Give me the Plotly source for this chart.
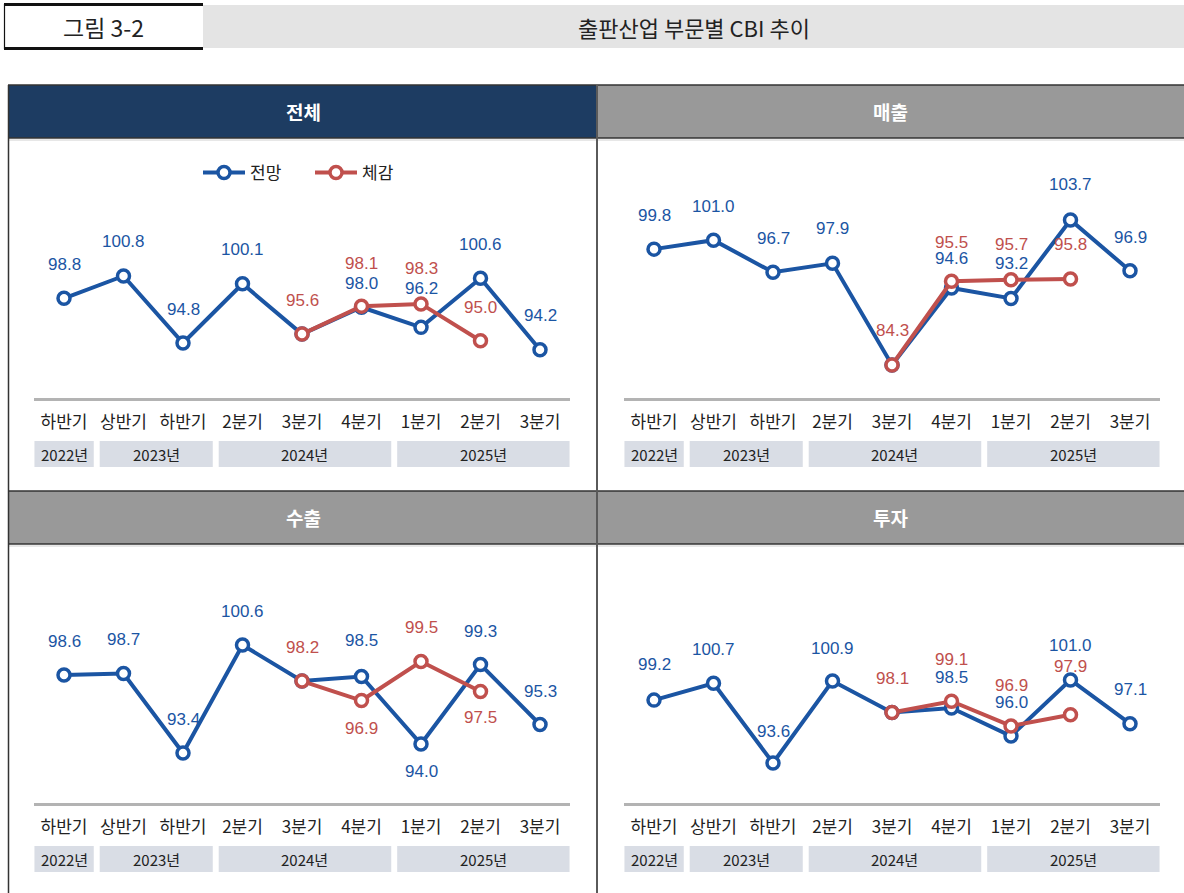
import plotly.graph_objects as go

W, H = 1184, 893

# ---------------- data ----------------
categories = ["하반기", "상반기", "하반기", "2분기", "3분기", "4분기", "1분기", "2분기", "3분기"]
years = ["2022년", "2023년", "2024년", "2025년"]
year_counts = [1, 2, 3, 3]

fig_label = "그림 3-2"
fig_title = "출판산업 부문별 CBI 추이"
panel_titles = ["전체", "매출", "수출", "투자"]
series_names = ["전망", "체감"]

total_outlook = [98.8, 100.8, 94.8, 100.1, 95.6, 98.0, 96.2, 100.6, 94.2]
total_actual = [None, None, None, None, 95.6, 98.1, 98.3, 95.0, None]
sales_outlook = [99.8, 101.0, 96.7, 97.9, 84.3, 94.6, 93.2, 103.7, 96.9]
sales_actual = [None, None, None, None, 84.3, 95.5, 95.7, 95.8, None]
export_outlook = [98.6, 98.7, 93.4, 100.6, 98.2, 98.5, 94.0, 99.3, 95.3]
export_actual = [None, None, None, None, 98.2, 96.9, 99.5, 97.5, None]
invest_outlook = [99.2, 100.7, 93.6, 100.9, 98.1, 98.5, 96.0, 101.0, 97.1]
invest_actual = [None, None, None, None, 98.1, 99.1, 96.9, 97.9, None]

outlook = [total_outlook, sales_outlook, export_outlook, invest_outlook]
actual = [total_actual, sales_actual, export_actual, invest_actual]

# ---------------- style ----------------
BLUE = "#1B55A3"
RED = "#C0504D"
NAVY = "#1D3C62"
GRAY_HEAD = "#999999"
YEAR_BG = "#D9DDE5"
TXT = "#222222"
KFONT = "Noto Sans CJK KR"
NFONT = "Liberation Sans"

# label vertical shifts in px (positive = above point)
blue_shift = [
    [34, 34, 34, 34, 0, 24, 39, 34, 34],
    [34, 34, 34, 35, 0, 29, 35, 35, 33],
    [34, 34, 34, 34, 0, 36, -27, 33, 33],
    [36, 34, 32, 33, 0, 30, 34, 34, 34],
]
red_shift = [
    [0, 0, 0, 0, 34, 43, 35, 33, 0],
    [0, 0, 0, 0, 34, 39, 35, 35, 0],
    [0, 0, 0, 0, 34, -28, 34, -26, 0],
    [0, 0, 0, 0, 34, 42, 40, 48, 0],
]

# panel geometry in px
panels = [
    dict(hx0=9, hx1=597, hy0=85, hy1=138, ax0=34.25, ax1=569.75, ay0=150, ay1=398,
         yb0=441, yb1=467, head=NAVY, yr=(89.876, 112.08)),
    dict(hx0=597, hx1=1184, hy0=85, hy1=138, ax0=624.25, ax1=1159.75, ay0=150, ay1=398,
         yb0=441, yb1=467, head=GRAY_HEAD, yr=(79.87, 113.07)),
    dict(hx0=9, hx1=597, hy0=491, hy1=544, ax0=34.25, ax1=569.75, ay0=555, ay1=803,
         yb0=846, yb1=872, head=GRAY_HEAD, yr=(90.07, 106.6)),
    dict(hx0=597, hx1=1184, hy0=491, hy1=544, ax0=624.25, ax1=1159.75, ay0=555, ay1=803,
         yb0=846, yb1=872, head=GRAY_HEAD, yr=(90.04, 112.12)),
]


def PX(x):
    return x / W


def PY(y):
    return 1 - y / H


fig = go.Figure()
shapes = []
annotations = []
layout_axes = {}

xs = list(range(len(categories)))

for p, g in enumerate(panels):
    xa = "x" if p == 0 else f"x{p + 1}"
    ya = "y" if p == 0 else f"y{p + 1}"
    xkey = "xaxis" if p == 0 else f"xaxis{p + 1}"
    ykey = "yaxis" if p == 0 else f"yaxis{p + 1}"

    layout_axes[xkey] = dict(
        domain=[PX(g["ax0"]), PX(g["ax1"])], anchor=ya, range=[-0.5, len(categories) - 0.5],
        tickmode="array", tickvals=xs, ticktext=categories,
        showline=True, linecolor="#B3B3B3", linewidth=3, showgrid=False, zeroline=False,
        ticks="outside", ticklen=7, tickcolor="rgba(0,0,0,0)",
        tickfont=dict(family=KFONT, size=17, color=TXT), fixedrange=True,
    )
    layout_axes[ykey] = dict(
        domain=[PY(g["ay1"]), PY(g["ay0"])], anchor=xa, range=list(g["yr"]),
        visible=False, showgrid=False, zeroline=False, fixedrange=True,
    )

    o = outlook[p]
    a = actual[p]
    fig.add_trace(go.Scatter(
        x=xs, y=o, mode="lines+markers", name=series_names[0], xaxis=xa, yaxis=ya,
        line=dict(color=BLUE, width=4),
        marker=dict(size=12, color="white", line=dict(color=BLUE, width=3.5)),
        showlegend=(p == 0), legendgroup="o", hoverinfo="skip",
    ))
    fig.add_trace(go.Scatter(
        x=xs, y=a, mode="lines+markers", name=series_names[1], xaxis=xa, yaxis=ya,
        line=dict(color=RED, width=4),
        marker=dict(size=12, color="white", line=dict(color=RED, width=3.5)),
        showlegend=(p == 0), legendgroup="a", hoverinfo="skip", connectgaps=False,
    ))

    # value labels
    for i in xs:
        if o[i] is not None and not (a[i] is not None and a[i] == o[i]):
            annotations.append(dict(
                x=i, y=o[i], xref=xa, yref=ya, text=f"{o[i]:.1f}", showarrow=False,
                yshift=blue_shift[p][i], font=dict(family=NFONT, size=17, color=BLUE),
            ))
        if a[i] is not None:
            annotations.append(dict(
                x=i, y=a[i], xref=xa, yref=ya, text=f"{a[i]:.1f}", showarrow=False,
                yshift=red_shift[p][i], font=dict(family=NFONT, size=17, color=RED),
            ))

    # year boxes
    start = 0
    for k, (yl, cnt) in enumerate(zip(years, year_counts)):
        end = start + cnt - 1
        bx0 = start - 0.5 + (0.1 if k > 0 else 0.0)
        bx1 = end + 0.5
        shapes.append(dict(type="rect", xref=xa, yref="paper", x0=bx0, x1=bx1,
                           y0=PY(g["yb1"]), y1=PY(g["yb0"]), fillcolor=YEAR_BG,
                           line=dict(width=0), layer="below"))
        annotations.append(dict(
            x=(bx0 + bx1) / 2, y=PY((g["yb0"] + g["yb1"]) / 2), xref=xa, yref="paper",
            text=yl, showarrow=False, font=dict(family=KFONT, size=15, color=TXT),
            xanchor="center", yanchor="middle",
        ))
        start = end + 1

    # header
    shapes.append(dict(type="rect", xref="paper", yref="paper", x0=PX(g["hx0"]), x1=PX(g["hx1"]),
                       y0=PY(g["hy1"]), y1=PY(g["hy0"]), fillcolor=g["head"],
                       line=dict(width=0), layer="below"))
    annotations.append(dict(
        x=PX((g["hx0"] + g["hx1"]) / 2), y=PY((g["hy0"] + g["hy1"]) / 2), xref="paper", yref="paper",
        text=f"<b>{panel_titles[p]}</b>", showarrow=False,
        font=dict(family=KFONT, size=19, color="white"), xanchor="center", yanchor="middle",
    ))

# header lines / borders
for yy in (85, 138, 491, 544):
    shapes.append(dict(type="line", xref="paper", yref="paper", x0=PX(8), x1=PX(1184),
                       y0=PY(yy), y1=PY(yy), line=dict(color="#333333", width=1.5)))
for yy in (140, 546):
    shapes.append(dict(type="line", xref="paper", yref="paper", x0=PX(8), x1=PX(1184),
                       y0=PY(yy), y1=PY(yy), line=dict(color="#D0D0D0", width=1)))
shapes.append(dict(type="line", xref="paper", yref="paper", x0=PX(8.5), x1=PX(8.5),
                   y0=PY(85), y1=PY(893), line=dict(color="#333333", width=1.5)))
shapes.append(dict(type="line", xref="paper", yref="paper", x0=PX(597), x1=PX(597),
                   y0=PY(85), y1=PY(893), line=dict(color="#5A5A5A", width=2)))

# top title bar
shapes.append(dict(type="rect", xref="paper", yref="paper", x0=PX(203), x1=PX(1184),
                   y0=PY(48), y1=PY(5), fillcolor="#E4E4E4", line=dict(width=0), layer="below"))
shapes.append(dict(type="line", xref="paper", yref="paper", x0=PX(4), x1=PX(203),
                   y0=PY(4.5), y1=PY(4.5), line=dict(color="#111111", width=3)))
shapes.append(dict(type="line", xref="paper", yref="paper", x0=PX(4), x1=PX(203),
                   y0=PY(48.5), y1=PY(48.5), line=dict(color="#111111", width=3)))
shapes.append(dict(type="line", xref="paper", yref="paper", x0=PX(4.5), x1=PX(4.5),
                   y0=PY(4), y1=PY(49), line=dict(color="#111111", width=1.2)))
annotations.append(dict(x=PX(103), y=PY(27), xref="paper", yref="paper", text=fig_label,
                        showarrow=False, font=dict(family=KFONT, size=23, color=TXT),
                        xanchor="center", yanchor="middle"))
annotations.append(dict(x=PX(694), y=PY(27), xref="paper", yref="paper", text=fig_title,
                        showarrow=False, font=dict(family=KFONT, size=22, color=TXT),
                        xanchor="center", yanchor="middle"))

fig.update_layout(
    width=W, height=H, margin=dict(l=0, r=0, t=0, b=0),
    paper_bgcolor="white", plot_bgcolor="rgba(0,0,0,0)",
    shapes=shapes, annotations=annotations,
    showlegend=True,
    legend=dict(orientation="h", x=PX(198), y=PY(173), xanchor="left", yanchor="middle",
                font=dict(family=KFONT, size=17, color=TXT), bgcolor="rgba(0,0,0,0)",
                itemwidth=42, entrywidth=55, entrywidthmode="pixels"),
    **layout_axes,
)

fig.write_html("out.html", config={"displayModeBar": False},
               post_script="document.body.style.margin='0';document.body.style.overflow='hidden';")
